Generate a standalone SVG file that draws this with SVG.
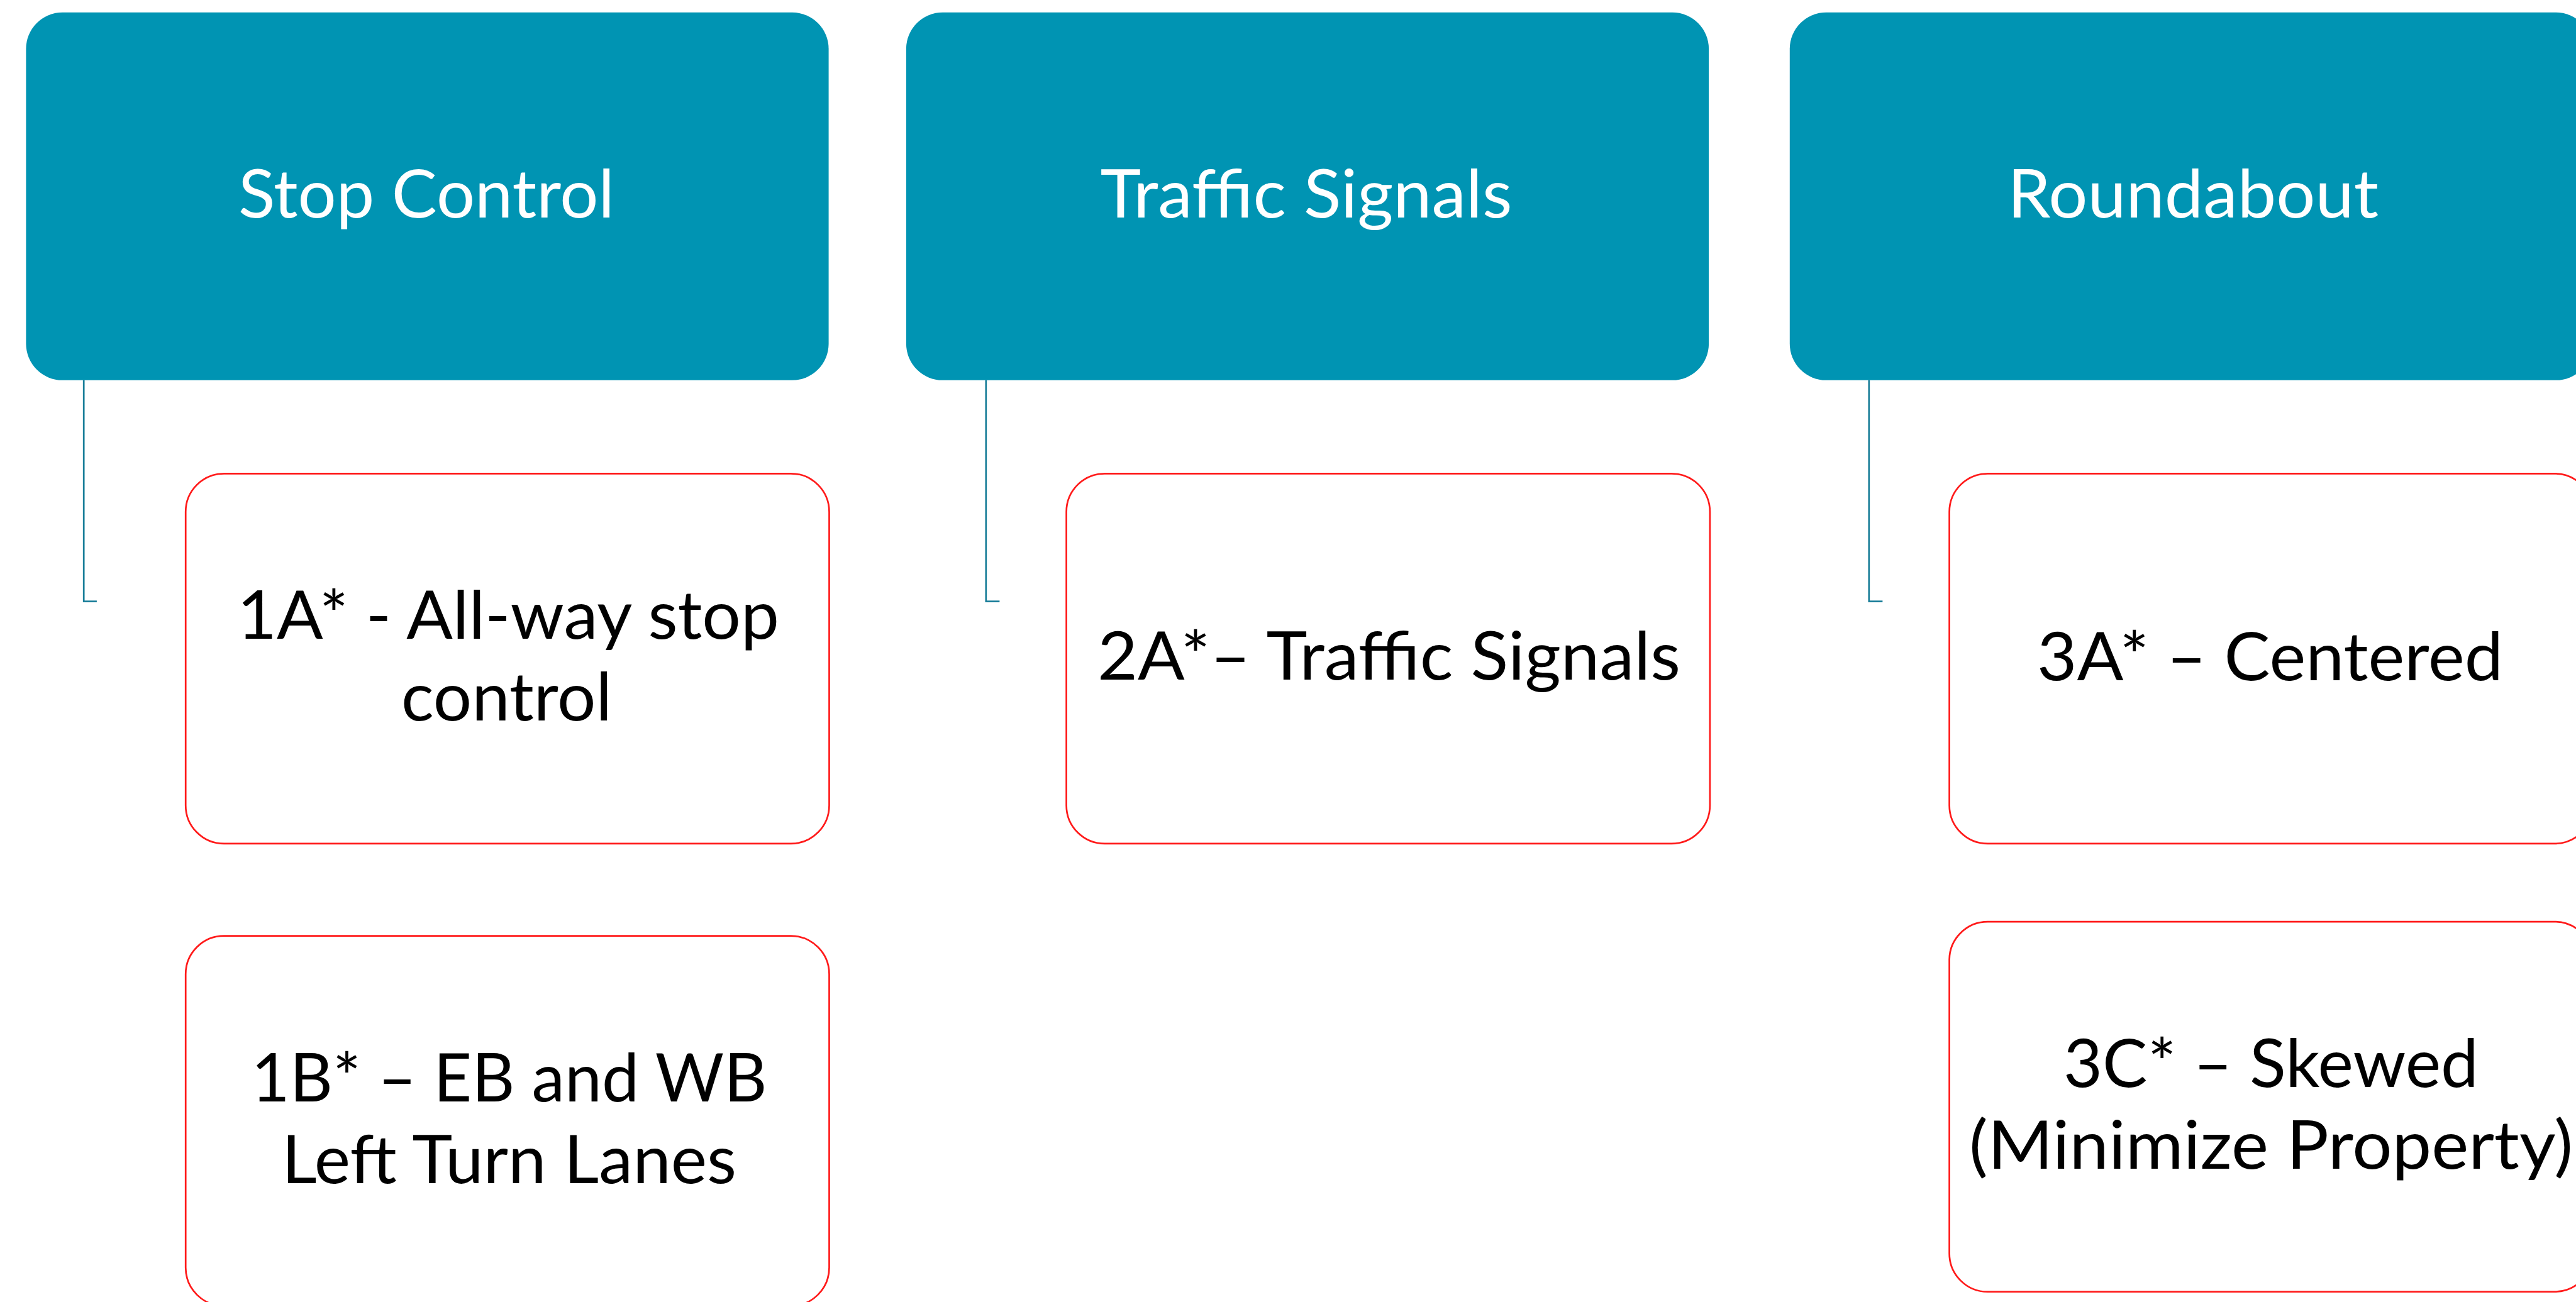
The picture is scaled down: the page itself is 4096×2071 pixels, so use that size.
<svg xmlns="http://www.w3.org/2000/svg" width="4096" height="2071" viewBox="0 0 4096 2071">
<style>
.hdr{fill:#0094B3;}
.hdr-t{fill:#FFFFFF;font-family:Lato,"Liberation Sans",sans-serif;font-size:107px;text-anchor:middle;}
.child{fill:#FFFFFF;stroke:#FF1A1A;stroke-width:2.7;}
.child-t{fill:#000000;font-family:Lato,"Liberation Sans",sans-serif;font-size:107px;text-anchor:middle;}
.conn{fill:none;stroke:#1A7E99;stroke-width:2.7;}
</style>
<rect x="0" y="0" width="4096" height="2071" fill="#FFFFFF"/>
<g id="connectors">
<path class="conn" d="M133.2,604.8 V956.7 H153.9"/>
<path class="conn" d="M1567.8,604.8 V956.7 H1589.4"/>
<path class="conn" d="M2971.8,604.8 V956.7 H2993.4"/>
</g>
<g id="stop-control">
<rect class="hdr" x="41.4" y="19.8" width="1276.2" height="585" rx="58" ry="58"/>
<text class="hdr-t" x="678" y="345.6" textLength="598" lengthAdjust="spacingAndGlyphs">Stop Control</text>
</g>
<g id="traffic-signals">
<rect class="hdr" x="1440.9" y="19.8" width="1276.2" height="585" rx="58" ry="58"/>
<text class="hdr-t" x="2077" y="345.6" textLength="655" lengthAdjust="spacingAndGlyphs">Traffic Signals</text>
</g>
<g id="roundabout">
<rect class="hdr" x="2845.8" y="19.8" width="1276.2" height="585" rx="58" ry="58"/>
<text class="hdr-t" x="3487" y="345.6" textLength="590" lengthAdjust="spacingAndGlyphs">Roundabout</text>
</g>
<g id="node-1a">
<rect class="child" x="295.2" y="753.3" width="1023.3" height="588.6" rx="61" ry="61"/>
<text class="child-t" x="808" y="1016.1" textLength="862" lengthAdjust="spacingAndGlyphs">1A* - All-way stop</text>
<text class="child-t" x="805.5" y="1145.7" textLength="335" lengthAdjust="spacingAndGlyphs">control</text>
</g>
<g id="node-1b">
<rect class="child" x="295.2" y="1488.6" width="1023.3" height="588.6" rx="61" ry="61"/>
<text class="child-t" x="809.5" y="1752.3" textLength="820" lengthAdjust="spacingAndGlyphs">1B* – EB and WB</text>
<text class="child-t" x="809.5" y="1881.9" textLength="723" lengthAdjust="spacingAndGlyphs">Left Turn Lanes</text>
</g>
<g id="node-2a">
<rect class="child" x="1695.6" y="753.3" width="1023.3" height="588.6" rx="61" ry="61"/>
<text class="child-t" x="2208.6" y="1080.9" textLength="927" lengthAdjust="spacingAndGlyphs">2A*– Traffic Signals</text>
</g>
<g id="node-3a">
<rect class="child" x="3099.6" y="753.3" width="1023.3" height="588.6" rx="61" ry="61"/>
<text class="child-t" x="3609.5" y="1081.8" textLength="741" lengthAdjust="spacingAndGlyphs">3A* – Centered</text>
</g>
<g id="node-3c">
<rect class="child" x="3099.6" y="1466.1" width="1023.3" height="588.6" rx="61" ry="61"/>
<text class="child-t" x="3611" y="1728.9" textLength="660" lengthAdjust="spacingAndGlyphs">3C* – Skewed</text>
<text class="child-t" x="3611" y="1858.5" textLength="960" lengthAdjust="spacingAndGlyphs">(Minimize Property)</text>
</g>
</svg>
